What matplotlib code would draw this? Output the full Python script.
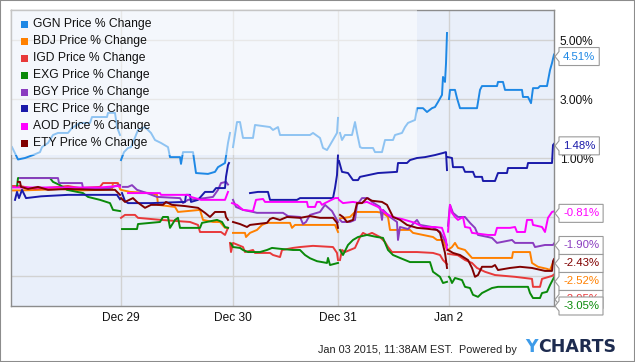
import numpy as np
import matplotlib
matplotlib.use("Agg")
import matplotlib.pyplot as plt
from matplotlib.patches import Rectangle, Polygon

plt.rcParams['font.family'] = ['Liberation Sans', 'DejaVu Sans']

N = np.nan

# x = intraday sample index (0..543) over 5 sessions, y = price % change
tick_pos = [110, 222, 327, 438]
tick_labels = ["Dec 29", "Dec 30", "Dec 31", "Jan 2"]
y_ticks = [-3, -1, 1, 3, 5]

names = ["GGN", "BDJ", "IGD", "EXG", "BGY", "ERC", "AOD", "ETY"]
colors = ["#1E88E5", "#FF8000", "#E8393A", "#0A8A0A", "#8A3CC0", "#1A1AAA", "#FF00FF", "#800000"]

ggn_x = [1,7,14,22,29,31,37,42,47,57,61,69,79,81,96,97,104,106,109, N,
         110,113,117,120,123,127,134,140,144,150,157,159,169,170,172,182,185,197,204,207,214,217,219, N,
         222,226,229,232,242,244,259,262,267,269,299,302,309,312,316,319,326,327, N,
         329,331,334,341,344,346,349,351,362,364,371,374,382,384,391,394,397,404,406,412,416,421,424,427,431,432,434,435,436, N,
         438,439,444,446,449,466,469,471,486,487,492,494,511,512,517,520,522,527,529,536,539,541,543]
ggn_y = [1.37,0.95,1.0,1.10,1.20,1.37,1.51,1.78,1.85,1.85,2.02,2.19,2.19,2.39,2.39,2.53,2.53,2.05,1.78, N,
         0.93,1.20,1.34,1.37,1.61,1.95,2.05,1.85,1.61,1.51,1.37,1.03,1.03,0.80,1.20,1.20,0.49,0.46,0.53,0.69,0.83,1.51,1.85, N,
         1.37,2.22,2.22,1.68,1.68,2.12,2.05,1.95,2.05,1.78,1.78,1.85,1.68,1.34,1.27,1.44,1.85,2.36, N,
         1.85,1.61,1.78,1.78,2.22,1.85,1.37,1.34,1.34,1.20,1.20,1.61,1.61,1.78,1.85,2.05,2.19,2.29,2.69,2.69,2.56,2.69,2.73,2.90,3.14,3.75,3.58,4.2,5.24, N,
         3.0,3.31,3.31,3.03,2.69,2.69,3.31,3.44,3.44,3.58,3.58,3.31,3.31,3.07,3.07,2.86,3.37,3.37,3.44,3.44,3.98,4.22,4.51]

bdj_x = [1,9,29,49,69,89,101,102,107,109, N,
         110,119,140,146,147,164,167,189,192,202,209,214,217, N,
         222,234,235,239,246,251,256,279,281,284,324,327, N,
         329,339,344,366,372,377,379,399,402,422,426,432,436, N,
         437,441,444,447,454,461,501,502,519,521,527,536,539,542,543]
bdj_y = [-0.10,-0.10,-0.08,-0.05,-0.10,-0.08,-0.05,0.15,0.15,-0.05, N,
         -0.08,-0.15,-0.19,-0.25,-0.59,-0.66,-0.83,-0.76,-1.10,-1.17,-1.17,-1.37,-1.37, N,
         -1.54,-1.54,-1.68,-1.54,-1.44,-1.27,-1.20,-1.20,-1.37,-1.27,-1.27,-1.51, N,
         -1.05,-1.0,-0.83,-0.83,-0.86,-1.0,-1.44,-1.44,-1.54,-1.68,-1.78,-1.78,-2.12, N,
         -2.12,-2.02,-1.88,-2.05,-2.12,-2.39,-2.39,-2.19,-2.19,-2.56,-2.69,-2.76,-2.80,-2.55,-2.52]

igd_x = [1,9,24,57,69,89,92,106,108, N,
         110,114,124,127,150,179,187,189,210,214,217, N,
         219,220,222,232,234,242,244,259,262,269,271,282,289,302,322,326,327, N,
         329,331,334,344,349,352,356,361,369,374,377,381,406,422,429,432,436, N,
         437,447,454,461,466,474,484,504,521,522,529,531,541,543]
igd_y = [0.05,0.05,-0.05,0.05,-0.02,0.02,0.15,0.15,0.08, N,
         -1.03,-0.93,-0.93,-1.03,-1.10,-1.17,-1.27,-1.51,-1.51,-1.61,-1.37, N,
         -1.88,-2.19,-1.88,-2.02,-2.19,-2.12,-2.22,-2.22,-2.29,-2.36,-2.12,-2.05,-2.02,-1.98,-2.02,-2.22,-2.46, N,
         -2.46,-2.12,-2.19,-2.05,-1.68,-1.54,-1.61,-1.54,-1.68,-1.85,-2.02,-2.19,-2.19,-2.22,-2.29,-2.46,-2.60, N,
         -2.25,-2.30,-2.46,-2.56,-2.73,-2.86,-2.97,-3.03,-3.10,-3.37,-3.37,-3.10,-3.0,-2.95]

exg_x = [6,7,39,42,49,56,72,77,89,99,102,109, N,
         111,126,127,149,152,157,159,164,167,169,189,191,206,211,214,217, N,
         220,222,229,232,237,249,256,261,269,282,289,294,299,306,316,317,319,327, N,
         329,332,337,342,347,356,366,372,377,382,389,399,419,422,429,432,436, N,
         438,439,441,444,451,454,459,462,467,471,481,487,517,519,522,529,531,536,539,543]
exg_y = [0.02,0.32,0.32,0.19,0.08,-0.08,-0.19,-0.32,-0.42,-0.53,-0.76,-0.80, N,
         -1.41,-1.41,-1.24,-1.17,-1.0,-1.0,-1.37,-1.10,-1.03,-1.37,-1.37,-1.20,-1.10,-1.17,-1.34,-1.37, N,
         -1.90,-2.02,-2.05,-2.12,-2.19,-2.19,-2.12,-2.05,-2.08,-2.12,-2.12,-2.29,-2.40,-2.50,-2.56,-2.39,-2.63,-2.56, N,
         -2.12,-2.29,-1.95,-1.78,-1.68,-1.61,-1.68,-1.71,-2.12,-2.29,-2.39,-2.53,-2.53,-2.86,-3.03,-3.24,-3.20, N,
         -3.03,-3.07,-3.24,-3.07,-3.14,-3.37,-3.41,-3.64,-3.71,-3.58,-3.41,-3.37,-3.37,-3.58,-3.75,-3.75,-3.58,-3.54,-3.31,-3.05]

bgy_x = [9,47,48,71,72,99,104,109, N,
         112,117,121,126,136,146,169,172,177,194,202,207,210,215,217, N,
         222,225,232,242,246,272,277,289,292,295,299,309,314,321,327, N,
         329,331,339,344,346,351,357,361,369,371,372,379,386,387,389,397,406,409,421,429,432,436, N,
         437,439,442,447,454,459,464,467,477,481,486,501,504,522,524,534,542,543]
bgy_y = [0.32,0.32,0.15,0.15,-0.02,-0.02,0.05,0.08, N,
         0.02,0.02,0.08,-0.08,-0.19,-0.32,-0.36,-0.53,-0.42,-0.36,-0.32,-0.08,0.15,0.19,0.10, N,
         -0.42,-0.66,-0.76,-0.83,-0.86,-0.86,-0.97,-1.0,-1.24,-1.17,-0.93,-0.83,-0.59,-0.80,-1.17, N,
         -1.10,-1.17,-1.17,-1.10,-0.59,-0.36,-0.36,-0.49,-0.66,-1.10,-0.76,-1.0,-1.17,-1.78,-1.34,-1.41,-1.10,-1.27,-1.34,-1.50,-1.68,-1.95, N,
         -1.30,-0.59,-0.86,-1.0,-1.0,-1.20,-1.37,-1.61,-1.68,-1.71,-1.88,-1.78,-1.88,-1.88,-2.02,-1.95,-1.95,-1.90]

erc_x = [4,6,8,11,15,30,57,106,109, N,
         111,114,117,140,174,175,179,180,187,194,202,205,214,215,217,218, N,
         239,247,257,259,286,289,322,324,326,327, N,
         328,331,337,342,347,349,367,386,387,396,399,406,414,424,432,435,436, N,
         437,441,442,452,454,462,464,471,472,484,487,496,497,516,517,541,542,543]
erc_y = [-0.42,-0.15,-0.36,-0.08,-0.36,-0.30,-0.25,-0.25,-0.40, N,
         -0.19,-0.46,-0.53,-0.53,-0.49,-0.25,-0.25,-0.49,-0.42,-0.15,-0.15,-0.02,-0.02,0.36,0.76,0.83, N,
         -0.19,-0.15,-0.15,-0.42,-0.42,-0.36,-0.36,-0.02,0.42,1.10, N,
         0.90,0.53,0.49,0.25,0.25,0.36,0.49,0.53,0.83,0.83,0.93,1.0,1.03,1.10,1.17,1.20,0.59, N,
         1.03,1.0,0.69,0.69,0.53,0.53,0.36,0.36,0.22,0.22,0.49,0.49,0.66,0.66,0.83,0.83,1.44,1.48]

aod_x = [1,49,89,107,109, N,
         117,149,150,177,180,190,214,217, N,
         221,226,232,242,245,252,254,296,297,304,306,309,311,314,324,327, N,
         328,332,342,349,356,367,374,381,391,404,412,424,431,435,436, N,
         437,439,441,444,447,452,454,459,461,477,484,486,499,504,506,514,516,521,522,531,534,537,541,543]
aod_y = [0.0,0.0,0.0,0.05,0.02, N,
         -0.19,-0.19,-0.25,-0.25,-0.32,-0.42,-0.42,-0.15, N,
         -0.53,-0.59,-0.76,-0.80,-0.42,-0.39,-0.49,-0.49,-0.66,-0.66,-0.49,-0.49,-0.59,-0.53,-0.36,-0.36, N,
         -0.42,-0.53,-0.49,-0.53,-0.49,-0.66,-0.86,-1.0,-1.07,-1.20,-1.34,-1.34,-1.37,-1.78,-2.10, N,
         -1.50,-0.59,-0.86,-1.0,-1.10,-1.0,-1.34,-1.37,-1.54,-1.61,-1.61,-1.37,-1.37,-1.34,-1.51,-1.51,-1.10,-1.10,-1.27,-1.34,-1.51,-1.03,-0.83,-0.81]

ety_x = [7,9,10,17,27,37,57,84,104,109, N,
         110,114,122,126,134,140,152,155,161,174,187,194,199,204,214,215,217, N,
         222,229,236,239,256,259,262,269,276,289,299,309,322,326,327, N,
         329,332,336,342,346,351,356,361,371,376,382,389,396,406,416,426,429,434,436, N,
         437,442,449,457,461,464,467,471,481,484,487,499,509,521,534,541,542,543]
ety_y = [0.19,0.19,0.02,-0.05,0.02,-0.08,-0.05,-0.08,-0.08,-0.25, N,
         -0.36,-0.49,-0.36,-0.49,-0.69,-0.59,-0.59,-0.49,-0.59,-0.63,-0.69,-0.86,-1.0,-0.83,-0.83,-1.0,-1.10, N,
         -1.17,-1.24,-1.34,-1.27,-1.20,-1.07,-1.03,-1.10,-1.0,-1.03,-0.97,-1.03,-1.03,-1.20,-1.37, N,
         -0.93,-1.0,-1.17,-1.10,-0.53,-0.53,-0.36,-0.45,-0.49,-0.59,-1.0,-1.10,-1.27,-1.37,-1.40,-1.44,-1.54,-2.22,-2.73, N,
         -2.12,-2.22,-2.29,-2.46,-2.73,-3.03,-2.97,-2.69,-2.69,-2.63,-2.80,-2.73,-2.69,-2.73,-2.83,-2.83,-2.50,-2.43]

series_x = [ggn_x, bdj_x, igd_x, exg_x, bgy_x, erc_x, aod_x, ety_x]
series_y = [ggn_y, bdj_y, igd_y, exg_y, bgy_y, erc_y, aod_y, ety_y]
last_vals = [4.51, -2.52, -2.95, -3.05, -1.90, 1.48, -0.81, -2.43]

W, H = 635, 362
fig = plt.figure(figsize=(W / 100, H / 100), dpi=100)
fig.patch.set_facecolor("white")
ax = fig.add_axes([11 / W, (H - 306) / H, 543 / W, 296 / H])
ax.set_facecolor("#E9EFFA")
ax.set_xlim(0, 543)
ax.set_ylim(-4.02, 6.02)

ax.set_yticks(y_ticks)
ax.set_yticklabels([f"{v:.2f}%" for v in y_ticks])
ax.yaxis.tick_right()
ax.set_xticks(tick_pos)
ax.set_xticklabels(tick_labels)
ax.tick_params(axis="y", length=0, pad=4, labelsize=8.6, colors="#111111")
ax.tick_params(axis="x", length=0, pad=4, labelsize=8.6, colors="#111111")
ax.grid(True, color="#D2D2D2", lw=1.0)
ax.set_axisbelow(True)
for s in ax.spines.values():
    s.set_color("#8C8C8C")
    s.set_linewidth(1.0)

for xs, ys, c in zip(series_x, series_y, colors):
    ax.plot(xs, ys, color=c, lw=1.4, zorder=2)

# translucent legend backdrop
ax.add_patch(Rectangle((0, (306 - 155) / 296), 406 / 543, 1, transform=ax.transAxes,
                       facecolor="white", alpha=0.5, edgecolor="none", zorder=3))

# legend
for k, (nm, c) in enumerate(zip(names, colors)):
    yc = 24 + 17 * k
    fig.add_artist(Rectangle((21 / W, 1 - (yc + 3.5) / H), 7 / W, 7 / H,
                             transform=fig.transFigure, facecolor=c, edgecolor="none", zorder=5))
    fig.text(33 / W, 1 - yc / H, f"{nm} Price % Change", fontsize=8.7, color="#111111",
             va="center", ha="left", zorder=5)

# end-value labels with simple de-cluttering
order = sorted(range(len(names)), key=lambda i: -last_vals[i])
placed = []
prev = -1e9
for i in order:
    ydisp = ax.transData.transform((0, last_vals[i]))[1]
    ytop = H - ydisp + 2
    ytop = max(ytop, prev + 18)
    ytop = min(ytop, 306)
    prev = ytop
    placed.append((i, ytop))

texts = []
for z, (i, yc) in enumerate(placed):
    t = fig.text(563 / W, 1 - yc / H, f"{last_vals[i]:.2f}%", fontsize=8.2, color=colors[i],
                 va="center", ha="left", zorder=10 + 2 * z + 1)
    texts.append((t, yc, z))

fig.canvas.draw()
r = fig.canvas.get_renderer()
for t, yc, z in texts:
    bb = t.get_window_extent(r)
    x1 = bb.x1 + 4
    pts = [(559, yc - 9), (x1, yc - 9), (x1, yc + 9), (559, yc + 9), (559, yc + 5), (555, yc), (559, yc - 5)]
    pts = [(px / W, 1 - py / H) for px, py in pts]
    fig.add_artist(Polygon(pts, closed=True, transform=fig.transFigure, facecolor="white",
                           edgecolor="#9A9A9A", lw=0.8, zorder=10 + 2 * z))

# footer
fig.text(517 / W, 1 - 350 / H, "Jan 03 2015, 11:38AM EST.  Powered by", fontsize=7.8,
         color="#222222", ha="right", va="center")
fig.text(525 / W, 1 - 347.5 / H, "Y", fontsize=12.5, fontweight="bold", color="#3D9BE9",
         ha="left", va="center", family="DejaVu Sans")
fig.text(538 / W, 1 - 347.5 / H, "CHARTS", fontsize=12.5, fontweight="bold", color="#1D2B4F",
         ha="left", va="center", family="DejaVu Sans")

fig.add_artist(Rectangle((0, 0), 1, 1, transform=fig.transFigure, fill=False,
                         edgecolor="#8C8C8C", lw=1.5, zorder=20))

fig.savefig("out.png", dpi=100, facecolor="white")
